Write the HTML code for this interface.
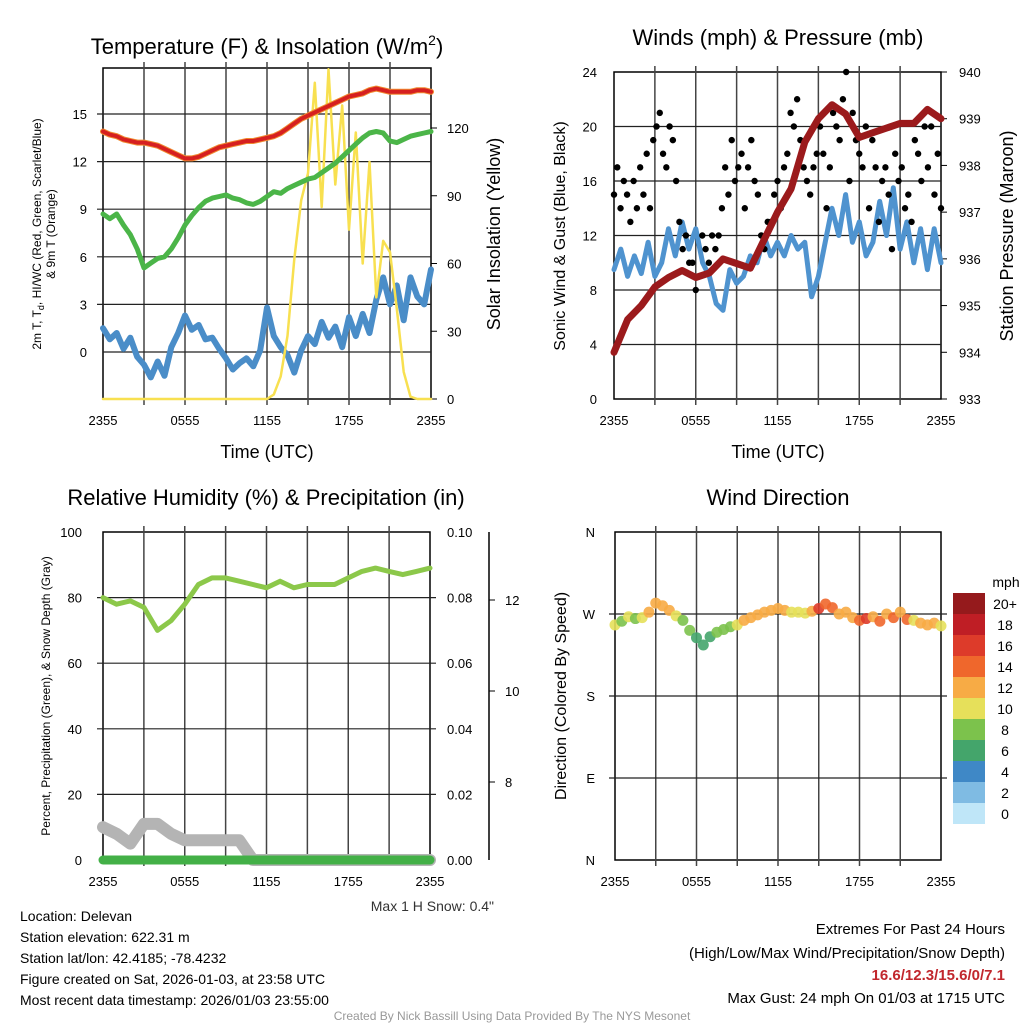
<!DOCTYPE html>
<html><head><meta charset="utf-8"><style>
html,body{margin:0;padding:0;background:#fff}
svg{display:block;font-family:"Liberation Sans",Arial,sans-serif}
</style></head><body>
<svg id="c" width="1024" height="1024" viewBox="0 0 1024 1024">
<g id="g"></g>
<text x="267" y="54" font-size="22" text-anchor="middle">Temperature (F) &amp; Insolation (W/m<tspan font-size="14" dy="-9">2</tspan><tspan dy="9">)</tspan></text>
<text x="778" y="45" font-size="22" text-anchor="middle">Winds (mph) &amp; Pressure (mb)</text>
<text x="266" y="505" font-size="22" text-anchor="middle">Relative Humidity (%) &amp; Precipitation (in)</text>
<text x="778" y="505" font-size="22" text-anchor="middle">Wind Direction</text>
<text x="267" y="458" font-size="18" text-anchor="middle">Time (UTC)</text>
<text x="778" y="458" font-size="18" text-anchor="middle">Time (UTC)</text>
<text transform="translate(41,234) rotate(-90)" font-size="12" text-anchor="middle">2m T, T<tspan font-size="9" dy="3">d</tspan><tspan dy="-3">, HI/WC (Red, Green, Scarlet/Blue)</tspan></text>
<text transform="translate(55,234) rotate(-90)" font-size="12" text-anchor="middle">&amp; 9m T (Orange)</text>
<text transform="translate(500,234) rotate(-90)" font-size="18" text-anchor="middle">Solar Insolation (Yellow)</text>
<text transform="translate(565,236) rotate(-90)" font-size="16" text-anchor="middle">Sonic Wind &amp; Gust (Blue, Black)</text>
<text transform="translate(1013,236) rotate(-90)" font-size="18" text-anchor="middle">Station Pressure (Maroon)</text>
<text transform="translate(50,696) rotate(-90)" font-size="12" text-anchor="middle">Percent, Precipitation (Green), &amp; Snow Depth (Gray)</text>
<text transform="translate(566,696) rotate(-90)" font-size="16" text-anchor="middle">Direction (Colored By Speed)</text>
<text x="494" y="911" font-size="14" text-anchor="end" fill="#333">Max 1 H Snow: 0.4"</text>
<g font-size="14">
<text x="20" y="921">Location: Delevan</text>
<text x="20" y="942">Station elevation: 622.31 m</text>
<text x="20" y="963">Station lat/lon: 42.4185; -78.4232</text>
<text x="20" y="984">Figure created on Sat, 2026-01-03, at 23:58 UTC</text>
<text x="20" y="1005">Most recent data timestamp: 2026/01/03 23:55:00</text>
</g>
<g font-size="15" text-anchor="end">
<text x="1005" y="934">Extremes For Past 24 Hours</text>
<text x="1005" y="958">(High/Low/Max Wind/Precipitation/Snow Depth)</text>
<text x="1005" y="980" fill="#c1272d" font-weight="bold">16.6/12.3/15.6/0/7.1</text>
<text x="1005" y="1003">Max Gust: 24 mph On 01/03 at 1715 UTC</text>
</g>
<text x="512" y="1020" font-size="12" fill="#999" text-anchor="middle">Created By Nick Bassill Using Data Provided By The NYS Mesonet</text>
</svg>
<script>
// ---- data ----
const xTickLabels = ["2355","0555","1155","1755","2355"];
const tempT = [13.9,13.7,13.6,13.4,13.3,13.2,13.2,13.1,13.0,12.8,12.6,12.4,12.2,12.2,12.3,12.5,12.7,12.9,13.0,13.1,13.2,13.3,13.3,13.4,13.5,13.6,13.8,14.1,14.4,14.7,14.9,15.1,15.3,15.5,15.7,15.9,16.1,16.2,16.3,16.5,16.6,16.5,16.4,16.4,16.4,16.4,16.5,16.5,16.4];
const tempWC = [8.7,8.4,8.7,8.0,7.4,6.5,5.3,5.6,5.9,6.0,6.5,7.2,8.0,8.6,9.1,9.5,9.7,9.8,9.9,9.7,9.6,9.4,9.3,9.5,9.8,10.1,10.0,10.3,10.5,10.7,10.9,11.0,11.3,11.6,11.9,12.3,12.7,13.1,13.5,13.8,13.9,13.8,13.3,13.2,13.4,13.6,13.7,13.8,13.9];
const tempTd = [1.5,0.8,1.2,0.2,0.9,-0.3,-0.8,-1.6,-0.6,-1.5,0.3,1.2,2.3,1.4,1.7,0.8,0.9,0.2,-0.4,-1.1,-0.7,-0.4,-0.9,0.1,2.8,1.0,0.3,-0.2,-1.3,0.1,1.0,0.5,1.9,0.9,1.6,0.3,2.2,1.0,2.4,1.2,3.3,4.7,3.0,4.2,2.0,4.7,3.5,3.0,5.2];
const insolation = [0,0,0,0,0,0,0,0,0,0,0,0,0,0,0,0,0,0,0,0,0,0,0,0,0,2,10,28,62,88,100,140,85,146,95,130,75,118,60,105,45,70,65,40,12,1,0,0,0];
const tempTicks = [0,3,6,9,12,15];
const insTicks = [0,30,60,90,120];
const windSpeed = [9.5,11,9,10.5,9.2,11.5,9,10,12.5,10.5,13,11,12.5,10,9,7,6.5,9.5,8.5,9,10.5,10,12,10.5,11.5,10.5,12,11,11.5,7.5,9,11.5,14,12,15,11.5,13,10.5,11.5,14.5,12,15.5,11,13,10,12.5,9.5,12.5,10];
const windGust = [15,17,14,16,15,13,16,14,17,15,18,14,19,20,21,18,17,20,19,16,13,11,12,10,10,8,9,12,11,10,12,11,12,14,17,15,19,16,17,18,14,17,19,16,15,12,11,13,13,15,16,14,17,18,21,20,22,19,17,16,15,17,18,20,18,14,17,21,20,19,22,24,16,21,19,18,17,20,14,19,17,13,16,17,15,11,18,16,17,14,15,13,19,18,16,20,17,20,15,18,14];
const pressure = [934.0,934.7,935.0,935.4,935.6,935.75,935.6,935.7,936.0,935.9,935.8,936.4,937.0,937.5,938.5,939.0,939.3,939.1,938.6,938.7,938.8,938.9,938.9,939.2,939.0];
const windTicks = [0,4,8,12,16,20,24];
const presTicks = [933,934,935,936,937,938,939,940];
const rh = [80,78,79,77,70,73,78,84,86,86,85,84,83,85,83,84,84,84,86,88,89,88,87,88,89];
const snowDepth = [10,8,5,11,11,8,6,6,6,6,6,0,0,0,0,0,0,0,0,0,0,0,0,0,0];
const precip = [0,0,0,0,0,0,0,0,0,0,0,0,0,0,0,0,0,0,0,0,0,0,0,0,0];
const rhTicks = [0,20,40,60,80,100];
const precipTicks = ["0.00","0.02","0.04","0.06","0.08","0.10"];
const snowTicks = [8,10,12];
const windDir = [258,262,267,265,266,272,282,279,274,268,263,252,244,236,245,250,253,256,258,263,266,269,272,274,276,274,272,272,271,273,276,281,277,270,272,266,263,265,267,262,270,266,272,264,263,260,258,260,257];
const dirSpeed = [10,9,10,9,11,12,13,13,12,10,9,8,7,6,7,8,8,9,10,12,12,12,13,12,13,12,11,10,11,13,16,15,14,13,12,13,15,17,12,14,13,15,12,14,11,12,12,12,11];
const dirTicks = ["N","E","S","W","N"];
const cbarLabels = ["0","2","4","6","8","10","12","14","16","18","20+"];
const cbarColors = ["#bfe6f8","#7fbbe3","#3f88c6","#44a56b","#7cc24c","#e6e05a","#f7ab45","#ef672c","#dd3b2a","#bf1e25","#951a1c"];

const NS="http://www.w3.org/2000/svg";
const G=document.getElementById('g');
function mk(tag,at,parent){const e=document.createElementNS(NS,tag);for(const k in at)e.setAttribute(k,at[k]);(parent||G).appendChild(e);return e;}
function scale(d0,d1,r0,r1){return v=>r0+(v-d0)/(d1-d0)*(r1-r0);}
function txt(x,y,s,anchor,size){const t=mk('text',{x:x,y:y,'font-size':size||13,'text-anchor':anchor||'middle'});t.textContent=s;return t;}

function frame(P,name){
  const f=mk('rect',{x:P.x0,y:P.y0,width:P.x1-P.x0,height:P.y1-P.y0,fill:'none',stroke:'#000','stroke-width':1.5});
  
  
  const X=scale(0,24,P.x0,P.x1);
  for(let h=3;h<24;h+=3){const l=mk('line',{x1:X(h),x2:X(h),y1:P.y0-6,y2:P.y1+6,stroke:'#444','stroke-width':1.5});
    
    }
  xTickLabels.forEach((s,i)=>{const t=txt(X(i*6),P.y1+26,s,'middle',13);
    
    });
  return X;
}
function poly(xs,ys,stroke,w,name){
  const d=xs.map((x,i)=>(i?'L':'M')+x.toFixed(1)+' '+ys[i].toFixed(1)).join(' ');
  const p=mk('path',{d:d,fill:'none',stroke:stroke,'stroke-width':w,'stroke-linejoin':'round','stroke-linecap':'round'});
  
  
  return p;
}
const tOf=(arr)=>arr.map((v,i)=>i*24/(arr.length-1));

// ---- panel 1 ----
{
 const P={x0:103,x1:431,y0:68,y1:399};
 const X=frame(P,'temp');
 const Y=scale(0,15,352,114), Yr=scale(0,120,399,128);
 tempTicks.forEach(v=>{if(v>0){const l=mk('line',{x1:P.x0-6,x2:P.x1,y1:Y(v),y2:Y(v),stroke:'#222','stroke-width':1.2});}
   const t=txt(P.x0-16,Y(v)+5,String(v),'end',13);});
 const l0=mk('line',{x1:P.x0,x2:P.x1,y1:Y(0),y2:Y(0),stroke:'#222','stroke-width':1.2});
 insTicks.forEach(v=>{mk('line',{x1:P.x1,x2:P.x1+6,y1:Yr(v),y2:Yr(v),stroke:'#000'});
   const t=txt(P.x1+16,Yr(v)+5,String(v),'start',13);});
 poly(tOf(tempTd).map(X),tempTd.map(Y),'#4a8dc8',6,'dewpoint-line');
 poly(tOf(insolation).map(X),insolation.map(Yr),'#f8e050',2.5,'insolation-line');
 poly(tOf(tempWC).map(X),tempWC.map(Y),'#4bb548',5,'windchill-line');
 poly(tOf(tempT).map(X),tempT.map(Y),'#f08a30',6,'temp-9m-line');
 poly(tOf(tempT).map(X),tempT.map(Y),'#d62020',4,'temperature-line');
}
// ---- panel 2 ----
{
 const P={x0:614,x1:941,y0:72,y1:399};
 const X=frame(P,'winds');
 const Y=scale(0,24,399,72), Yr=scale(933,940,399,72);
 windTicks.forEach(v=>{if(v>0&&v<24){const l=mk('line',{x1:P.x0,x2:P.x1,y1:Y(v),y2:Y(v),stroke:'#222','stroke-width':1.2});}
   const t=txt(P.x0-17,Y(v)+5,String(v),'end',13);});
 presTicks.forEach(v=>{mk('line',{x1:P.x1,x2:P.x1+6,y1:Yr(v),y2:Yr(v),stroke:'#000'});
   const t=txt(P.x1+18,Yr(v)+5,String(v),'start',13);});
 poly(tOf(windSpeed).map(X),windSpeed.map(Y),'#4f93cf',5,'wind-speed-line');
 const ts=tOf(windGust);
 windGust.forEach((v,i)=>{const c=mk('circle',{cx:X(ts[i]),cy:Y(v),r:3.2,fill:'#000'});
   
   });
 poly(tOf(pressure).map(X),pressure.map(Yr),'#9b1a1c',7,'pressure-line');
}
// ---- panel 3 ----
{
 const P={x0:103,x1:430,y0:532,y1:860};
 const X=frame(P,'humidity');
 const Y=scale(0,100,860,532);
 rhTicks.forEach((v,i)=>{if(v>0&&v<100){const l=mk('line',{x1:P.x0-6,x2:P.x1+6,y1:Y(v),y2:Y(v),stroke:'#222','stroke-width':1.2});}
   const t=txt(P.x0-21,Y(v)+5,String(v),'end',13);
   const t2=txt(P.x1+17,Y(v)+5,precipTicks[i],'start',13);});
 const ax=mk('line',{x1:489,x2:489,y1:532,y2:860,stroke:'#000','stroke-width':1.5});
 const S=scale(8,12,782,600);
 snowTicks.forEach(v=>{mk('line',{x1:489,x2:495,y1:S(v),y2:S(v),stroke:'#000'});
   const t=txt(505,S(v)+5,String(v),'start',13);});
 poly(tOf(snowDepth).map(X),snowDepth.map(Y),'#b4b4b4',12,'snow-depth-line');
 poly(tOf(precip).map(X),precip.map(Y),'#43b047',9,'precip-line');
 poly(tOf(rh).map(X),rh.map(Y),'#8cc84a',5,'rh-line');
}
// ---- panel 4 ----
{
 const P={x0:615,x1:941,y0:532,y1:860};
 const X=frame(P,'direction');
 const Y=scale(0,360,860,532);
 dirTicks.forEach((s,i)=>{const v=i*90;if(i>0&&i<4){const l=mk('line',{x1:P.x0-6,x2:P.x1+6,y1:Y(v),y2:Y(v),stroke:'#222','stroke-width':1.2});}
   const t=txt(P.x0-20,Y(v)+5,s,'end',13);});
 const ts=tOf(windDir);
 windDir.forEach((v,i)=>{const k=Math.min(10,Math.floor(dirSpeed[i]/2));
   const c=mk('circle',{cx:X(ts[i]),cy:Y(v),r:5.5,fill:cbarColors[k],'fill-opacity':0.9});
   
   });
 const m=txt(1006,587,'mph','middle',14);
 cbarLabels.forEach((s,i)=>{const y=803-i*21;
   const r=mk('rect',{x:953,y:y,width:32,height:21,fill:cbarColors[i]});
   
   
   const t=txt(1005,y+16,s,'middle',14);});
}
</script>
</body></html>
